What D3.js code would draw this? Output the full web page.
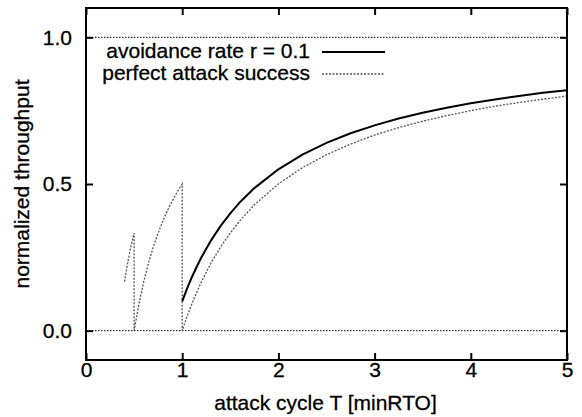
<!DOCTYPE html>
<html><head><meta charset="utf-8">
<script src="https://cdn.jsdelivr.net/npm/d3@7"></script>
<style>
html,body{margin:0;padding:0;background:#fff;}
text{font-family:"Liberation Sans",Arial,Helvetica,sans-serif;fill:#000;stroke:#000;stroke-width:0.3px;}
</style></head>
<body><svg id="c" width="582" height="417"></svg>
<script>
// ---- data ----
const xTicks = [0, 1, 2, 3, 4, 5];
const yTicks = [0.0, 0.5, 1.0];
const seriesNames = ["avoidance rate r = 0.1", "perfect attack success"];
const refLines = [0.0, 1.0];

const avoidT   = [1.0,1.05,1.1,1.15,1.2,1.3,1.4,1.5,1.6,1.75,2.0,2.25,2.5,2.75,3.0,3.25,3.5,3.75,4.0,4.25,4.5,4.75,5.0];
const avoidVal = [0.100,0.143,0.182,0.217,0.250,0.308,0.357,0.400,0.438,0.486,0.550,0.600,0.640,0.673,0.700,0.723,0.743,0.760,0.775,0.788,0.800,0.811,0.820];

const perfT   = [0.40,0.42,0.44,0.46,0.48,0.50, 0.50,0.55,0.60,0.65,0.70,0.75,0.80,0.85,0.90,0.95,1.00, 1.00,1.05,1.1,1.15,1.2,1.3,1.4,1.5,1.6,1.75,2.0,2.25,2.5,2.75,3.0,3.25,3.5,3.75,4.0,4.25,4.5,4.75,5.0];
const perfVal = [0.167,0.206,0.242,0.275,0.306,0.333, 0.0,0.091,0.167,0.231,0.286,0.333,0.375,0.412,0.444,0.474,0.500, 0.0,0.048,0.091,0.130,0.167,0.231,0.286,0.333,0.375,0.429,0.500,0.556,0.600,0.636,0.667,0.692,0.714,0.733,0.750,0.765,0.778,0.789,0.800];

// ---- layout ----
const L = 86, R = 567, T = 8, B = 360;
const svg = d3.select("#c");
const x = d3.scaleLinear().domain([0, 5]).range([L, R]);
const y = d3.scaleLinear().domain([-0.1, 1.1]).range([B, T]);
const fs = 21;

// reference dotted lines
svg.selectAll("line.ref").data(refLines).enter().append("line")
  .attr("x1", L).attr("x2", R).attr("y1", d => y(d)).attr("y2", d => y(d))
  .attr("stroke", "#000").attr("stroke-width", 1).attr("stroke-dasharray", "1.5,1.5");

// series
const line = d3.line().x(d => x(d[0])).y(d => y(d[1])).curve(d3.curveLinear);
const perfData = perfT.map((t, i) => [t, perfVal[i]]);
const avoidData = avoidT.map((t, i) => [t, avoidVal[i]]);
svg.append("path").datum(perfData).attr("d", line).attr("fill", "none")
  .attr("stroke", "#555").attr("stroke-width", 1.3).attr("stroke-dasharray", "2,1.5");
svg.append("path").datum(avoidData).attr("d", line).attr("fill", "none")
  .attr("stroke", "#000").attr("stroke-width", 2);

// axes (inward ticks, mirrored)
const tl = 7;
const gB = svg.append("g").attr("transform", `translate(0,${B})`)
  .call(d3.axisBottom(x).tickValues(xTicks).tickSize(-tl).tickPadding(2).tickFormat(d3.format("d")));
const gT = svg.append("g").attr("transform", `translate(0,${T})`)
  .call(d3.axisTop(x).tickValues(xTicks).tickSize(-tl).tickFormat(""));
const gL = svg.append("g").attr("transform", `translate(${L},0)`)
  .call(d3.axisLeft(y).tickValues(yTicks).tickSize(-tl).tickPadding(14).tickFormat(d3.format(".1f")));
const gR = svg.append("g").attr("transform", `translate(${R},0)`)
  .call(d3.axisRight(y).tickValues(yTicks).tickSize(-tl).tickFormat(""));
[gB, gT, gL, gR].forEach(g => {
  g.select(".domain").remove();
  g.selectAll(".tick line").attr("stroke", "#000").attr("stroke-width", 2);
  g.selectAll("text").attr("font-size", fs).attr("font-family", "Liberation Sans, Arial, sans-serif").attr("fill", "#000");
});
// frame
svg.append("rect").attr("x", L).attr("y", T).attr("width", R - L).attr("height", B - T)
  .attr("fill", "none").attr("stroke", "#000").attr("stroke-width", 2);

// axis labels
svg.append("text").attr("x", (L + R) / 2 - 1).attr("y", 410).attr("text-anchor", "middle")
  .attr("font-size", fs).text("attack cycle T [minRTO]");
svg.append("text").attr("transform", `translate(29,${(T + B) / 2}) rotate(-90)`)
  .attr("text-anchor", "middle").attr("font-size", fs).text("normalized throughput");

// legend
const legY = [52, 74];
const leg = svg.append("g");
seriesNames.forEach((name, i) => {
  leg.append("text").attr("x", 310).attr("y", legY[i] + 6).attr("text-anchor", "end")
    .attr("font-size", fs).text(name);
  leg.append("line").attr("x1", 322).attr("x2", 385).attr("y1", legY[i]).attr("y2", legY[i])
    .attr("stroke", i === 0 ? "#000" : "#555")
    .attr("stroke-width", i === 0 ? 2 : 1.3)
    .attr("stroke-dasharray", i === 0 ? null : "2,1.5");
});
</script></body></html>
